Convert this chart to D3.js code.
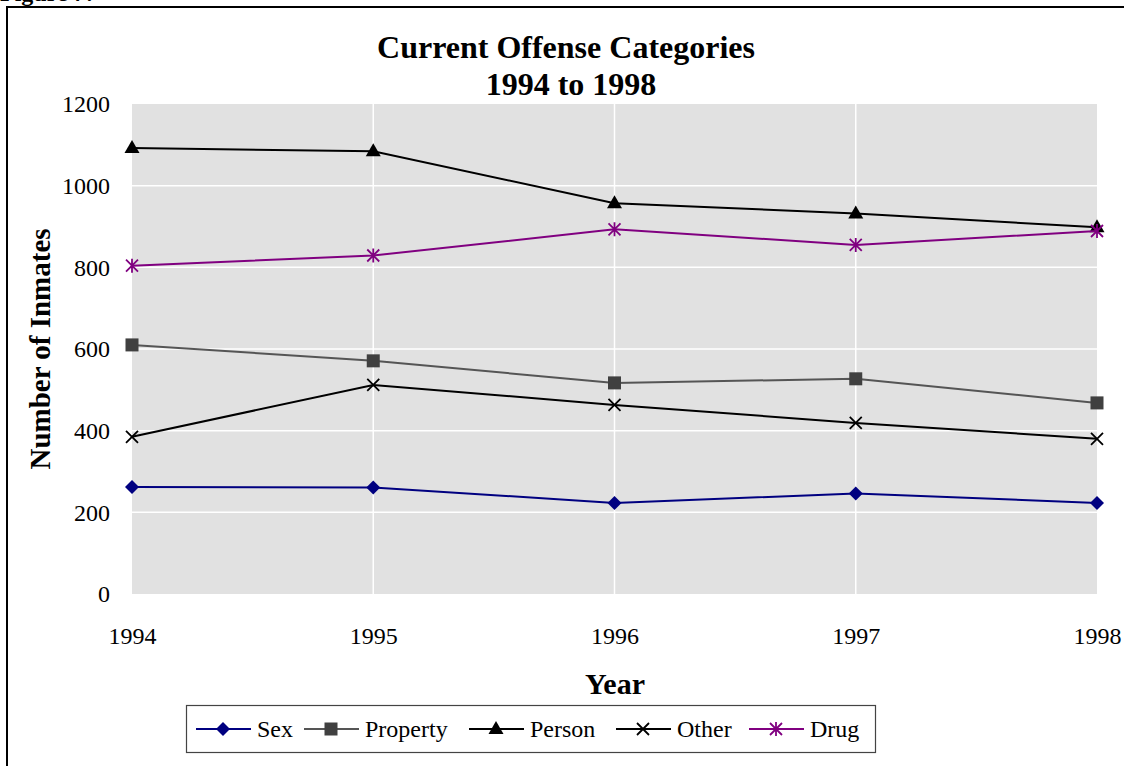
<!DOCTYPE html>
<html><head><meta charset="utf-8">
<script src="https://cdn.jsdelivr.net/npm/d3@7"></script>
<style>body{margin:0;background:#fff}svg{display:block}text{font-family:"Liberation Serif","Times New Roman",serif}</style>
</head><body><svg id="c" width="1124" height="766"></svg>
<script>
const years = [1994, 1995, 1996, 1997, 1998];
const yTicks = [0, 200, 400, 600, 800, 1000, 1200];
const sexVals = [262, 261, 223, 246, 223];
const propertyVals = [610, 571, 517, 527, 468];
const personVals = [1092, 1084, 957, 932, 898];
const otherVals = [385, 512, 463, 419, 380];
const drugVals = [804, 829, 893, 855, 889];
const seriesNames = ["Sex", "Property", "Person", "Other", "Drug"];

const series = [
  {name: "Sex", values: sexVals, color: "#000080", marker: "diamond", mfill: "#000080"},
  {name: "Property", values: propertyVals, color: "#555555", marker: "square", mfill: "#404040"},
  {name: "Person", values: personVals, color: "#000000", marker: "triangle", mfill: "#000000"},
  {name: "Other", values: otherVals, color: "#000000", marker: "x", mfill: "none"},
  {name: "Drug", values: drugVals, color: "#800080", marker: "star", mfill: "none"}
];

const svg = d3.select("#c");
const L = 132, R = 1097, T = 104, B = 594;
const x = d3.scalePoint().domain(years).range([L, R]);
const y = d3.scaleLinear().domain([0, 1200]).range([B, T]);

// outer frame
svg.append("path").attr("d", "M7,770 L7,7 L1130,7").attr("fill", "none").attr("stroke", "#000").attr("stroke-width", 2);
svg.append("text").attr("x", 0).attr("y", 1).attr("font-size", 24).attr("font-weight", "bold").text("Figure 7:");

// plot background
svg.append("rect").attr("x", L).attr("y", T).attr("width", R - L).attr("height", B - T).attr("fill", "#e1e1e1");

// gridlines
svg.append("g").selectAll("line").data(yTicks.filter(d => d > 0 && d < 1200)).join("line")
  .attr("x1", L).attr("x2", R).attr("y1", d => y(d)).attr("y2", d => y(d))
  .attr("stroke", "#fff").attr("stroke-width", 1.5);
svg.append("g").selectAll("line").data(years.slice(1, -1)).join("line")
  .attr("x1", d => x(d)).attr("x2", d => x(d)).attr("y1", T).attr("y2", B)
  .attr("stroke", "#fff").attr("stroke-width", 1.5);

// axes
const yAxis = svg.append("g").attr("transform", `translate(${L},0)`)
  .call(d3.axisLeft(y).tickValues(yTicks).tickSize(0).tickPadding(22).tickFormat(d3.format("d")));
yAxis.select(".domain").remove();
yAxis.selectAll("text").attr("font-size", 24).attr("fill", "#000").attr("font-family", "Liberation Serif");

const xAxis = svg.append("g").attr("transform", `translate(0,${B})`)
  .call(d3.axisBottom(x).tickSize(0).tickPadding(33).tickFormat(d3.format("d")));
xAxis.select(".domain").remove();
xAxis.selectAll("text").attr("font-size", 24).attr("fill", "#000").attr("font-family", "Liberation Serif");

// titles
svg.append("text").attr("x", 566).attr("y", 58).attr("text-anchor", "middle").attr("font-size", 32).attr("font-weight", "bold").text("Current Offense Categories");
svg.append("text").attr("x", 571).attr("y", 95).attr("text-anchor", "middle").attr("font-size", 32).attr("font-weight", "bold").text("1994 to 1998");
svg.append("text").attr("x", 615).attr("y", 694).attr("text-anchor", "middle").attr("font-size", 30).attr("font-weight", "bold").text("Year");
svg.append("text").attr("transform", "translate(50,349) rotate(-90)").attr("text-anchor", "middle").attr("font-size", 29).attr("font-weight", "bold").text("Number of Inmates");

function drawMarker(g, type, cx, cy, color, fill) {
  const s = 7;
  if (type === "diamond") {
    g.append("path").attr("d", `M${cx},${cy - s} L${cx + s},${cy} L${cx},${cy + s} L${cx - s},${cy} Z`).attr("fill", fill);
  } else if (type === "square") {
    g.append("rect").attr("x", cx - 6.5).attr("y", cy - 6.5).attr("width", 13).attr("height", 13).attr("fill", fill);
  } else if (type === "triangle") {
    g.append("path").attr("d", `M${cx},${cy - 8} L${cx + 7.5},${cy + 5} L${cx - 7.5},${cy + 5} Z`).attr("fill", fill);
  } else if (type === "x") {
    g.append("path").attr("d", `M${cx - 6},${cy - 6} L${cx + 6},${cy + 6} M${cx - 6},${cy + 6} L${cx + 6},${cy - 6}`).attr("stroke", color).attr("stroke-width", 1.8);
  } else if (type === "star") {
    g.append("path").attr("d", `M${cx - 6},${cy - 6} L${cx + 6},${cy + 6} M${cx - 6},${cy + 6} L${cx + 6},${cy - 6} M${cx},${cy - 7} L${cx},${cy + 7}`).attr("stroke", color).attr("stroke-width", 1.8);
  }
}

const line = d3.line().x((d, i) => x(years[i])).y(d => y(d));
series.forEach(s => {
  const g = svg.append("g");
  g.append("path").attr("d", line(s.values)).attr("fill", "none").attr("stroke", s.color).attr("stroke-width", 2);
  s.values.forEach((v, i) => drawMarker(g, s.marker, x(years[i]), y(v), s.color, s.mfill));
});

// legend
svg.append("rect").attr("x", 186.5).attr("y", 705.5).attr("width", 689).attr("height", 47).attr("fill", "#fff").attr("stroke", "#444").attr("stroke-width", 1.2);
const legX = [196, 304, 469, 616, 749];
series.forEach((s, i) => {
  const g = svg.append("g");
  const lx = legX[i];
  g.append("line").attr("x1", lx).attr("x2", lx + 55).attr("y1", 729).attr("y2", 729).attr("stroke", s.color).attr("stroke-width", 2);
  drawMarker(g, s.marker, lx + 27, 729, s.color, s.mfill);
  g.append("text").attr("x", lx + 61).attr("y", 737).attr("font-size", 24).text(seriesNames[i]);
});
</script></body></html>
